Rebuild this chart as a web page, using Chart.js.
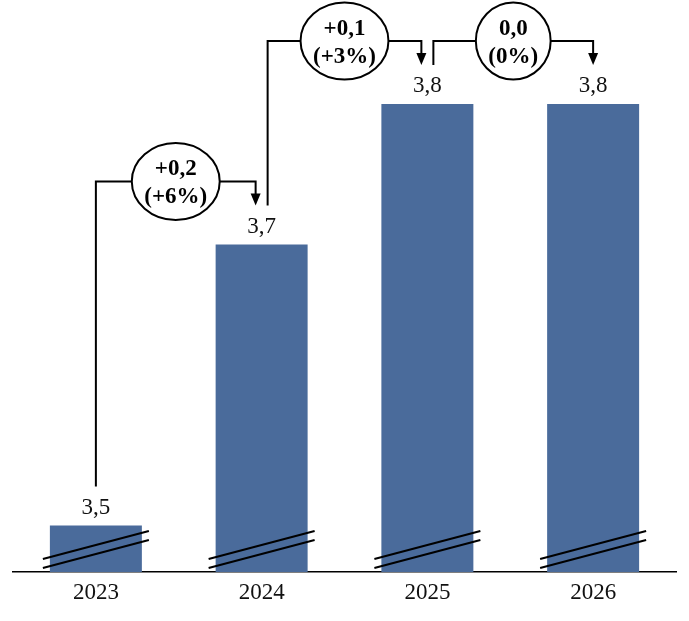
<!DOCTYPE html>
<html><head><meta charset="utf-8">
<script src="https://cdn.jsdelivr.net/npm/chart.js@4.4.1/dist/chart.umd.min.js"></script>
<style>html,body{margin:0;padding:0;background:#fff}canvas{display:block}</style>
</head><body>
<canvas id="c" width="689" height="621"></canvas>
<script>
const years = ['2023', '2024', '2025', '2026'];
const values = [3.5, 3.7, 3.8, 3.8];
const valueLabels = ['3,5', '3,7', '3,8', '3,8'];
const changeAbs = ['+0,2', '+0,1', '0,0'];
const changePct = ['(+6%)', '(+3%)', '(0%)'];
const axisMin = 3.467, axisMax = 3.874; // broken value axis

const FAM = '"Liberation Serif", "Times New Roman", serif';

const deco = {
  id: 'deco',
  afterDatasetsDraw(chart) {
    const ctx = chart.ctx;
    const meta = chart.getDatasetMeta(0);
    const base = chart.chartArea.bottom;
    const n = meta.data.length;
    ctx.save();
    // axis break marks
    ctx.strokeStyle = '#000';
    ctx.lineWidth = 2;
    meta.data.forEach(b => {
      const l = b.x - b.width / 2 - 7, r = b.x + b.width / 2 + 7;
      [[13, 41], [4, 32]].forEach(([a, c]) => {
        ctx.beginPath(); ctx.moveTo(l, base - a); ctx.lineTo(r, base - c); ctx.stroke();
      });
    });
    // value labels
    ctx.fillStyle = '#111';
    ctx.font = '23px ' + FAM;
    ctx.textAlign = 'center';
    ctx.textBaseline = 'middle';
    meta.data.forEach((b, i) => ctx.fillText(valueLabels[i], b.x, b.y - 18));
    // change connectors
    for (let i = 0; i < n - 1; i++) {
      const s = meta.data[i], d = meta.data[i + 1];
      const sx = s.x + (i > 0 ? 6 : 0);
      const dx = d.x - (i + 1 < n - 1 ? 6 : 0);
      const cy = d.y - 63;
      const sy = s.y - 39, ty = d.y - 39;
      ctx.lineWidth = 2; ctx.strokeStyle = '#000';
      ctx.beginPath(); ctx.moveTo(sx, sy); ctx.lineTo(sx, cy); ctx.lineTo(dx, cy); ctx.lineTo(dx, ty - 11); ctx.stroke();
      ctx.beginPath(); ctx.moveTo(dx - 5, ty - 12); ctx.lineTo(dx + 5, ty - 12); ctx.lineTo(dx, ty); ctx.closePath();
      ctx.fillStyle = '#000'; ctx.fill();
      ctx.font = 'bold 23px ' + FAM;
      const w = Math.max(ctx.measureText(changeAbs[i]).width, ctx.measureText(changePct[i]).width);
      const rx = w / 2 + 12.5, ry = 38.5, ex = (sx + dx) / 2;
      ctx.beginPath(); ctx.ellipse(ex, cy, rx, ry, 0, 0, Math.PI * 2);
      ctx.fillStyle = '#fff'; ctx.fill(); ctx.stroke();
      ctx.fillStyle = '#000';
      ctx.fillText(changeAbs[i], ex, cy - 12);
      ctx.fillText(changePct[i], ex, cy + 16);
    }
    ctx.restore();
  }
};

new Chart(document.getElementById('c'), {
  type: 'bar',
  data: {
    labels: years,
    datasets: [{ data: values, backgroundColor: '#4A6B9B', barPercentage: 0.555, categoryPercentage: 1 }]
  },
  options: {
    responsive: false,
    animation: false,
    layout: { padding: { left: 13, right: 13, top: 0, bottom: 0 } },
    plugins: { legend: { display: false }, tooltip: { enabled: false } },
    scales: {
      x: {
        grid: { display: false, drawTicks: false },
        border: { display: true, color: '#000', width: 1.5 },
        ticks: { color: '#111', font: { size: 23, family: FAM, lineHeight: 1.2 }, padding: 7.5 },
        afterFit(s) { s.height = 49; }
      },
      y: { display: false, min: axisMin, max: axisMax }
    }
  },
  plugins: [deco]
});
</script>
</body></html>
